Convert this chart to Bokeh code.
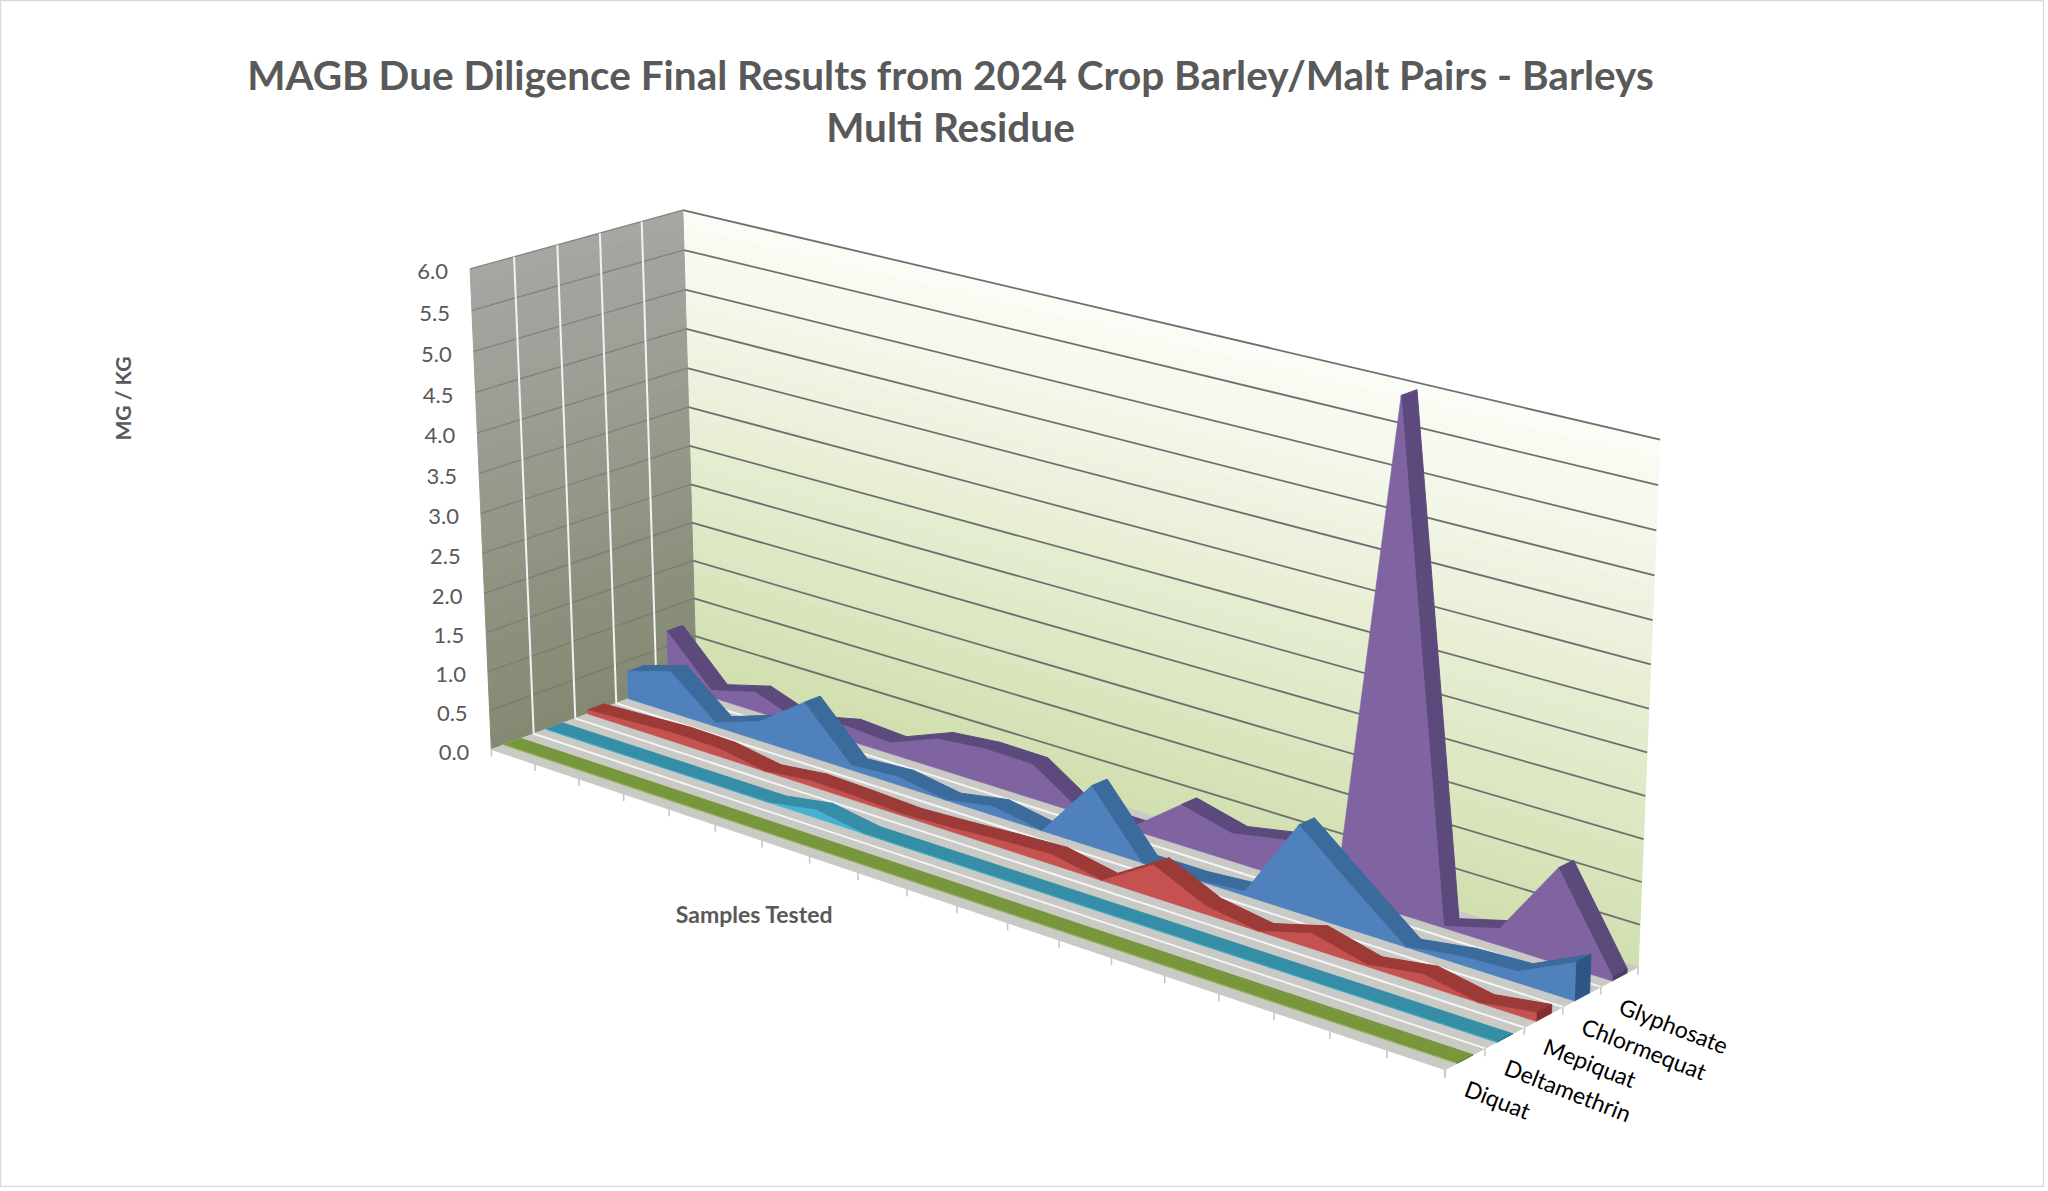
import numpy as np
from bokeh.plotting import figure
from bokeh.models import Range1d
from bokeh.embed import file_html
from bokeh.resources import INLINE
from bokeh.core.properties import value

# ---------------- data (mg/kg), 20 samples ----------------
samples = list(range(1, 21))
glyphosate   = [0.70, 0.09, 0.25, 0.04, 0.18, 0.14, 0.38, 0.44, 0.43, 0.02,
                0.02, 0.50, 0.34, 0.46, 0.05, 6.00, 0.02, 0.20, 1.12, 0.05]
chlormequat  = [0.36, 0.54, 0.05, 0.25, 0.68, 0.06, 0.10, 0.00, 0.11, 0.00,
                0.75, 0.00, 0.00, 0.05, 1.05, 0.52, 0.00, 0.10, 0.13, 0.45]
mepiquat     = [0.05, 0.08, 0.11, 0.10, 0.00, 0.07, 0.05, 0.02, 0.05, 0.09,
                0.12, 0.00, 0.39, 0.10, 0.00, 0.18, 0.02, 0.12, 0.00, 0.10]
deltamethrin = [0.00, 0.00, 0.00, 0.00, 0.00, 0.00, 0.10, 0.00, 0.00, 0.00,
                0.00, 0.00, 0.00, 0.00, 0.00, 0.00, 0.00, 0.00, 0.00, 0.00]
diquat       = [0.00, 0.00, 0.00, 0.00, 0.00, 0.00, 0.00, 0.00, 0.00, 0.00,
                0.00, 0.00, 0.00, 0.00, 0.00, 0.00, 0.00, 0.00, 0.00, 0.00]
series_names = ["Diquat", "Deltamethrin", "Mepiquat", "Chlormequat", "Glyphosate"]  # front -> back
value_ticks = [0.0, 0.5, 1.0, 1.5, 2.0, 2.5, 3.0, 3.5, 4.0, 4.5, 5.0, 5.5, 6.0]
tick_labels = ["%.1f" % t for t in value_ticks]
title_lines = ["MAGB Due Diligence Final Results from 2024 Crop Barley/Malt Pairs - Barleys",
               "Multi Residue"]
y_title = "MG / KG"
x_title = "Samples Tested"

# ---------------- styles ----------------
FRONT = {"Glyphosate": "#8064A2", "Chlormequat": "#4F81BD", "Mepiquat": "#C55150",
         "Deltamethrin": "#45B3D0", "Diquat": "#9BBB59"}
TOP = {"Glyphosate": "#5D4A7D", "Chlormequat": "#3B6A9D", "Mepiquat": "#9C3A37",
       "Deltamethrin": "#358EA6", "Diquat": "#77973D"}
CAP = {"Glyphosate": "#4E3D6B", "Chlormequat": "#2D5684", "Mepiquat": "#832E2C",
       "Deltamethrin": "#2A7589", "Diquat": "#607C30"}
FONT = "Lato"
GREY_TXT = "#595959"

# ---------------- camera (3-D box -> page pixels) ----------------
# layout of the 3-D plot box: world (category, value, series-depth) -> pixel
N = len(samples)
XMAX = N - 1
DEPTH = len(series_names)
CALIB = [
    ((0, 6, 0), (470, 269)), ((0, 0, 0), (491, 750)), ((0, 3, 0), (480, 511)),
    ((0, 6, 5), (682, 209)), ((0, 0, 5), (696, 672)), ((0, 3, 5), (689, 447)),
    ((19, 6, 5), (1660, 440)), ((19, 0, 5), (1637, 965)), ((19, 3, 5), (1648, 707)),
    ((19, 0, 0), (1444, 1068)), ((5, 0, 0), (715, 825)), ((10, 0, 0), (956, 905)),
    ((15, 0, 0), (1218, 993)), ((19, 0, 1), (1485, 1048)), ((19, 0, 2), (1524, 1028)),
    ((19, 0, 3), (1563, 1008)), ((19, 0, 4), (1601, 987)),
]


def fit_camera(calib):
    W = np.array([c[0] for c in calib], float)
    U = np.array([c[1] for c in calib], float)
    mu = U.mean(0)
    su = np.sqrt(2) / np.mean(np.linalg.norm(U - mu, axis=1))
    mw = W.mean(0)
    sw = np.sqrt(3) / np.mean(np.linalg.norm(W - mw, axis=1))
    Un = (U - mu) * su
    Wn = (W - mw) * sw
    A = []
    for (X, Y, Z), (u, v) in zip(Wn, Un):
        A.append([X, Y, Z, 1, 0, 0, 0, 0, -u * X, -u * Y, -u * Z, -u])
        A.append([0, 0, 0, 0, X, Y, Z, 1, -v * X, -v * Y, -v * Z, -v])
    _, _, Vt = np.linalg.svd(np.array(A))
    Pn = Vt[-1].reshape(3, 4)
    Tn = np.array([[su, 0, -su * mu[0]], [0, su, -su * mu[1]], [0, 0, 1]])
    Sw = np.array([[sw, 0, 0, -sw * mw[0]], [0, sw, 0, -sw * mw[1]],
                   [0, 0, sw, -sw * mw[2]], [0, 0, 0, 1]])
    return np.linalg.inv(Tn) @ Pn @ Sw


P = fit_camera(CALIB)


def proj(X, Y, Z):
    h = P @ np.array([X, Y, Z, 1.0])
    return float(h[0] / h[2]), float(h[1] / h[2])


def poly(pts):
    uv = [proj(*q) for q in pts]
    return [a for a, b in uv], [b for a, b in uv]


def area(xs, ys):
    s = 0.0
    for j in range(len(xs)):
        k = (j + 1) % len(xs)
        s += xs[j] * ys[k] - xs[k] * ys[j]
    return s


def lerp_hex(c0, c1, t):
    a = [int(c0[i:i + 2], 16) for i in (1, 3, 5)]
    b = [int(c1[i:i + 2], 16) for i in (1, 3, 5)]
    return "#%02x%02x%02x" % tuple(int(round(a[i] + (b[i] - a[i]) * t)) for i in range(3))


# ---------------- figure ----------------
W_PX, H_PX = 2044, 1187
p = figure(width=W_PX, height=H_PX, x_range=Range1d(0, W_PX), y_range=Range1d(H_PX, 0),
           output_backend="svg", toolbar_location=None, min_border=0)
p.axis.visible = False
p.xgrid.visible = False
p.ygrid.visible = False
p.outline_line_color = "#d9d9d9"
p.outline_line_width = 1.5
p.background_fill_color = "white"
p.border_fill_color = "white"

YMAX = value_ticks[-1]
NSTRIP = 30
# back wall (gradient strips)
bx, by, bc = [], [], []
for j in range(NSTRIP):
    y0 = YMAX * j / NSTRIP
    y1 = YMAX * (j + 1) / NSTRIP
    xs, ys = poly([(0, y0, DEPTH), (XMAX, y0, DEPTH), (XMAX, y1, DEPTH), (0, y1, DEPTH)])
    bx.append(xs); by.append(ys)
    bc.append(lerp_hex("#d1dfae", "#fbfcf7", (j + 0.5) / NSTRIP))
p.patches(bx, by, fill_color=bc, line_color=bc, line_width=1)
# side wall (gradient strips)
sx, sy, sc = [], [], []
for j in range(NSTRIP):
    y0 = YMAX * j / NSTRIP
    y1 = YMAX * (j + 1) / NSTRIP
    xs, ys = poly([(0, y0, 0), (0, y0, DEPTH), (0, y1, DEPTH), (0, y1, 0)])
    sx.append(xs); sy.append(ys)
    sc.append(lerp_hex("#838a71", "#a5a7a3", (j + 0.5) / NSTRIP))
p.patches(sx, sy, fill_color=sc, line_color=sc, line_width=1)
# floor
fx, fy = poly([(0, 0, 0), (XMAX, 0, 0), (XMAX, 0, DEPTH), (0, 0, DEPTH)])
p.patch(fx, fy, fill_color="#c9cac5", line_color="#c9cac5", line_width=1)

# gridlines
gx, gy = [], []
for t in value_ticks[1:]:
    xs, ys = poly([(0, t, DEPTH), (XMAX, t, DEPTH)])
    gx.append(xs); gy.append(ys)
p.multi_line(gx, gy, line_color="#6f6f6f", line_width=1.8)
gx, gy = [], []
for t in value_ticks[1:]:
    xs, ys = poly([(0, t, 0), (0, t, DEPTH)])
    gx.append(xs); gy.append(ys)
p.multi_line(gx, gy, line_color="#72766c", line_width=1.3, line_alpha=0.7)
gx, gy = [], []
for k in range(1, DEPTH):
    xs, ys = poly([(0, 0, k), (0, YMAX, k)])
    gx.append(xs); gy.append(ys)
p.multi_line(gx, gy, line_color="#f2f2f2", line_width=2)
gx, gy = [], []
for k in range(1, DEPTH):
    xs, ys = poly([(0, 0, k), (XMAX, 0, k)])
    gx.append(xs); gy.append(ys)
p.multi_line(gx, gy, line_color="#f4f4f4", line_width=2)
# tick marks
gx, gy = [], []
for i in range(N):
    xs, ys = poly([(i, 0, 0), (i, -0.09, 0)])
    gx.append(xs); gy.append(ys)
for k in range(DEPTH + 1):
    xs, ys = poly([(XMAX, 0, k), (XMAX, -0.09, k)])
    gx.append(xs); gy.append(ys)
p.multi_line(gx, gy, line_color="#c4c4c4", line_width=1.5)

# ---------------- series ribbons (back to front) ----------------
series_vals = {"Glyphosate": glyphosate, "Chlormequat": chlormequat, "Mepiquat": mepiquat,
               "Deltamethrin": deltamethrin, "Diquat": diquat}
for k in range(DEPTH - 1, -1, -1):
    name = series_names[k]
    vals = series_vals[name]
    zf, zb = k + 0.3, k + 0.7
    qx, qy = [], []
    for i in range(N - 1):
        xs, ys = poly([(i, vals[i], zf), (i + 1, vals[i + 1], zf),
                       (i + 1, vals[i + 1], zb), (i, vals[i], zb)])
        if area(xs, ys) < 0:
            qx.append(xs); qy.append(ys)
    if qx:
        p.patches(qx, qy, fill_color=TOP[name], line_color=TOP[name], line_width=1)
    xs, ys = poly([(XMAX, 0, zf), (XMAX, vals[-1], zf), (XMAX, vals[-1], zb), (XMAX, 0, zb)])
    p.patch(xs, ys, fill_color=CAP[name], line_color=CAP[name], line_width=0.8)
    pts = [(i, vals[i], zf) for i in range(N)] + [(XMAX, 0, zf), (0, 0, zf)]
    xs, ys = poly(pts)
    p.patch(xs, ys, fill_color=FRONT[name], line_color=FRONT[name], line_width=0.6)

# ---------------- texts ----------------
lx, ly = [], []
for t in value_ticks:
    u, v = proj(0, t, 0)
    lx.append(u - 22); ly.append(v + 3)
p.text(lx, ly, text=tick_labels, text_font=value(FONT), text_font_size="22px",
       text_color=GREY_TXT, text_align="right", text_baseline="middle")

sx_, sy_ = [], []
for k in range(DEPTH):
    u, v = proj(XMAX, 0, k + 0.5)
    sx_.append(u + 1); sy_.append(v + 28)
p.text(sx_, sy_, text=series_names, angle=-0.37, text_font=value(FONT),
       text_font_size="23px", text_color="#000000", text_align="left", text_baseline="middle")

p.text([950, 950], [74, 126], text=title_lines, text_font=value(FONT), text_font_size="40.5px",
       text_font_style="bold", text_color=GREY_TXT, text_align="center", text_baseline="middle")
p.text([122], [398], text=[y_title], angle=np.pi / 2, text_font=value(FONT), text_font_size="21px",
       text_font_style="bold", text_color=GREY_TXT, text_align="center", text_baseline="middle")
p.text([754], [913], text=[x_title], text_font=value(FONT), text_font_size="23px",
       text_font_style="bold", text_color=GREY_TXT, text_align="center", text_baseline="middle")

open("out.html", "w").write(file_html(p, INLINE))
